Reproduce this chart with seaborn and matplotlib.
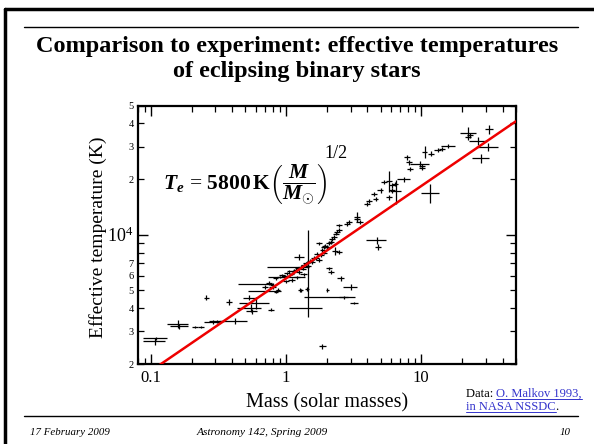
import numpy as np
import pandas as pd
import matplotlib
matplotlib.use('Agg')
import matplotlib.pyplot as plt
import matplotlib.ticker as mticker
from matplotlib.lines import Line2D
import seaborn as sns

# eclipsing binary components
mass = [0.110, 0.108, 0.160, 0.163, 0.212, 0.235, 0.258, 0.286, 0.31, 0.378,
        0.417, 0.62, 0.72, 0.547, 0.56, 0.537, 0.60, 0.776, 0.84, 0.87,
        0.80, 1.06, 1.10, 1.46, 1.46, 2.3, 2.68, 3.18, 3.0, 2.02,
        1.27, 1.30, 1.44, 1.86, 2.54,
        0.84, 0.90, 0.94, 0.98, 1.02, 1.06, 1.10, 1.14, 1.18, 1.22,
        1.25, 1.29, 1.33, 1.36, 1.40, 1.45, 1.50, 1.57, 1.62, 1.66,
        1.70, 1.75, 1.81, 1.86, 1.90, 1.95, 2.02, 2.08, 2.14, 2.20,
        2.26, 2.33, 2.40, 2.30, 2.47, 2.47, 1.25, 1.91, 2.47, 1.76,
        2.14, 2.08, 1.20, 1.35, 1.00, 1.10, 0.75, 0.80, 0.70,
        3.36, 2.84, 2.92, 3.36, 3.50, 4.72, 4.80, 4.10, 5.75, 5.28,
        5.00, 4.46, 4.60, 3.98, 5.75, 6.43, 6.08, 6.10, 6.50, 7.40,
        7.86, 8.08, 8.30, 9.83, 10.1, 10.1, 10.6, 11.8, 13.2, 14.2,
        15.8, 11.7, 22.3, 22.3, 23.0, 31.7, 26.5, 31.3, 27.9]
mass_err = [0.022, 0.020, 0.028, 0.025, 0.012, 0.012, 0.010, 0.040, 0.040, 0.020,
            0.100, 0.180, 0.200, 0.110, 0.050, 0.060, 0.150, 0.040, 0.030, 0.030,
            0.050, 0.330, 0.380, 0.060, 0.400, 0.950, 0.200, 0.200, 0.350, 0.050,
            0.040, 0.040, 0.050, 0.100, 0.150,
            0.04, 0.04, 0.05, 0.05, 0.05, 0.05, 0.05, 0.06, 0.06, 0.06,
            0.06, 0.06, 0.07, 0.07, 0.07, 0.07, 0.08, 0.08, 0.08, 0.08,
            0.09, 0.09, 0.09, 0.09, 0.10, 0.10, 0.10, 0.10, 0.11, 0.11,
            0.11, 0.12, 0.12, 0.12, 0.12, 0.12, 0.10, 0.10, 0.12, 0.09,
            0.11, 0.10, 0.06, 0.07, 0.05, 0.06, 0.04, 0.04, 0.04,
            0.17, 0.14, 0.15, 0.17, 0.18, 0.80, 0.25, 0.20, 0.30, 0.26,
            0.25, 0.22, 0.23, 0.20, 0.30, 0.32, 0.30, 0.30, 0.60, 0.80,
            0.40, 0.40, 0.40, 1.50, 0.50, 0.50, 0.50, 0.60, 0.70, 0.70,
            1.90, 1.80, 3.00, 1.20, 1.20, 2.00, 4.00, 6.00, 4.00]
temp = [2750, 2650, 3300, 3200, 3160, 3160, 4570, 3360, 3400, 4320,
        3430, 5420, 4950, 4010, 3850, 4560, 4280, 3930, 4930, 5050,
        5200, 5920, 6720, 7100, 4030, 4630, 4590, 4270, 5240, 5030,
        5030, 5000, 5090, 2500, 5810,
        5810, 5900, 6050, 5950, 6200, 6330, 6150, 6400, 6450, 6600,
        6300, 6700, 6550, 6900, 7000, 6800, 7200, 7140, 7500, 7440,
        7900, 7300, 7760, 8250, 8000, 8700, 8600, 9000, 9150, 9500,
        9730, 10150, 10400, 8150, 11250, 10570, 7600, 8600, 8080, 8970,
        6320, 6580, 5900, 6100, 5600, 5700, 5500, 5350, 5200,
        12470, 11480, 11720, 12220, 11720, 9340, 8600, 15300, 19600, 19230,
        17360, 16660, 15650, 14700, 15960, 18830, 18470, 17360, 17200, 19900,
        26200, 24600, 22700, 24120, 23600, 23000, 28100, 27500, 28800, 29000,
        30300, 16870, 35700, 33600, 34500, 37200, 32200, 29700, 26000]
temp_err = [60, 120, 150, 100, 40, 40, 150, 80, 70, 150,
            120, 0, 0, 200, 100, 150, 300, 80, 100, 100,
            100, 0, 0, 3500, 0, 0, 80, 50, 200, 120,
            100, 100, 120, 80, 200,
            100, 100, 110, 110, 120, 120, 120, 130, 130, 130,
            130, 140, 140, 140, 150, 150, 150, 160, 160, 160,
            170, 170, 170, 180, 180, 190, 190, 200, 200, 210,
            220, 230, 240, 400, 250, 250, 300, 200, 200, 200,
            150, 150, 120, 130, 120, 120, 120, 120, 120,
            800, 300, 300, 300, 300, 400, 300, 400, 2500, 500,
            500, 400, 400, 400, 500, 500, 500, 500, 2500, 600,
            700, 700, 600, 800, 600, 600, 2000, 700, 700, 700,
            800, 2000, 2500, 1000, 1000, 2000, 1500, 1500, 1500]

# T_e = 5800 K (M/Msun)^(1/2), drawn across the axis range
fit_mass = [0.08, 50.0]
fit_temp = [5800 * np.sqrt(m) for m in fit_mass]

y_minor_ticks = [2000, 3000, 4000, 5000, 6000, 7000, 8000, 9000, 20000, 30000, 40000, 50000]
y_minor_labels = ['2', '3', '4', '5', '6', '7', '', '', '2', '3', '4', '5']

df = pd.DataFrame({'mass': mass, 'temp': temp, 'mass_err': mass_err, 'temp_err': temp_err})
fit = pd.DataFrame({'mass': fit_mass, 'temp': fit_temp})

sns.set_theme(style='ticks')
plt.rcParams['font.family'] = ['Liberation Serif', 'DejaVu Serif']
plt.rcParams['mathtext.fontset'] = 'custom'
plt.rcParams['mathtext.rm'] = 'Liberation Serif'
plt.rcParams['mathtext.it'] = 'Liberation Serif:italic'
plt.rcParams['mathtext.bf'] = 'Liberation Serif:bold'
plt.rcParams['mathtext.bfit'] = 'Liberation Serif:bold:italic'

W, H = 594, 444
fig = plt.figure(figsize=(5.94, 4.44), dpi=100)
fig.patch.set_facecolor('white')
ax = fig.add_axes([137.7 / W, 1 - 364 / H, (515.7 - 137.7) / W, (364 - 105.5) / H])

ax.errorbar(df['mass'], df['temp'], xerr=df['mass_err'], yerr=df['temp_err'],
            fmt='none', ecolor='black', elinewidth=0.9, capsize=0, zorder=2)
sns.lineplot(data=fit, x='mass', y='temp', color='#ee0000', linewidth=1.8, ax=ax, zorder=3)

ax.set_xscale('log')
ax.set_yscale('log')
ax.set_xlim(0.08, 50)
ax.set_ylim(2000, 50000)
ax.set_xlabel('')
ax.set_ylabel('')

ax.xaxis.set_major_locator(mticker.FixedLocator([0.1, 1, 10]))
ax.xaxis.set_major_formatter(mticker.FixedFormatter(['0.1', '1', '10']))
ax.xaxis.set_minor_locator(mticker.LogLocator(base=10, subs=np.arange(2, 10)))
ax.xaxis.set_minor_formatter(mticker.NullFormatter())
ax.yaxis.set_major_locator(mticker.FixedLocator([10000]))
ax.yaxis.set_major_formatter(mticker.FixedFormatter([r'$10^4$']))
ax.yaxis.set_minor_locator(mticker.FixedLocator(y_minor_ticks))
ax.yaxis.set_minor_formatter(mticker.FixedFormatter(y_minor_labels))

ax.tick_params(which='both', direction='in', top=True, right=True, colors='black')
ax.tick_params(which='major', length=7, width=1.0, pad=4)
ax.tick_params(which='minor', length=4, width=0.9)
ax.tick_params(axis='x', which='major', labelsize=12)
ax.tick_params(axis='y', which='major', labelsize=13, pad=3)
ax.tick_params(axis='y', which='minor', labelsize=7.5, pad=3)
for s in ax.spines.values():
    s.set_linewidth(1.6)
    s.set_color('black')

fig.text(98 / W, 1 - 237 / H, 'Effective temperature (K)', rotation=90,
         ha='center', va='center', fontsize=14, color='black')
fig.text(327 / W, 1 - 403 / H, 'Mass (solar masses)', ha='center', va='center',
         fontsize=14.5, color='black')

# slide decoration
fig.text(297 / W, 1 - 46 / H, 'Comparison to experiment: effective temperatures',
         ha='center', va='center', fontsize=17.5, fontweight='bold', color='black')
fig.text(297 / W, 1 - 71 / H, 'of eclipsing binary stars',
         ha='center', va='center', fontsize=17.5, fontweight='bold', color='black')
fig.add_artist(Line2D([5 / W, 1], [1 - 9 / H, 1 - 9 / H], color='black', lw=2.5))
fig.add_artist(Line2D([5 / W, 5 / W], [0, 1 - 9 / H], color='black', lw=2.5))
fig.add_artist(Line2D([24 / W, 578 / W], [1 - 27 / H, 1 - 27 / H], color='black', lw=1.0))
fig.add_artist(Line2D([24 / W, 578 / W], [1 - 416 / H, 1 - 416 / H], color='black', lw=1.0))
fig.text(30 / W, 1 - 432 / H, '17 February 2009', ha='left', va='center',
         fontsize=7.8, style='italic', color='black')
fig.text(262 / W, 1 - 432 / H, 'Astronomy 142, Spring 2009', ha='center', va='center',
         fontsize=8.2, style='italic', color='black')
fig.text(571 / W, 1 - 432 / H, '10', ha='right', va='center',
         fontsize=7.8, style='italic', color='black')

fig.canvas.draw()
rend = fig.canvas.get_renderer()

# fitted relation, exponent set high against the bracket as on the slide
eq = fig.text(163 / W, 1 - 185 / H,
              r'$\boldsymbol{T}_{\boldsymbol{e}}\,=\,\mathbf{5800\,K}\left(\dfrac{\boldsymbol{M}}{\boldsymbol{M}_{\odot}}\right)$',
              ha='left', va='center', fontsize=15.5, color='black')
eq_box = eq.get_window_extent(rend)
fig.text((eq_box.x1 - 3) / W, 1 - 153 / H, '1/2', ha='left', va='center',
         fontsize=13, color='black')

# data credit with underlined links
link = '#3333cc'
t1 = fig.text(466 / W, 1 - 397 / H, 'Data: ', ha='left', va='baseline', fontsize=9, color='black')
x1 = t1.get_window_extent(rend).x1
t2 = fig.text(x1 / W, 1 - 397 / H, 'O. Malkov 1993,', ha='left', va='baseline', fontsize=9, color=link)
e2 = t2.get_window_extent(rend)
fig.add_artist(Line2D([e2.x0 / W, e2.x1 / W], [1 - 399 / H, 1 - 399 / H], color=link, lw=0.7))
t3 = fig.text(466 / W, 1 - 410 / H, 'in NASA NSSDC', ha='left', va='baseline', fontsize=9, color=link)
e3 = t3.get_window_extent(rend)
fig.add_artist(Line2D([e3.x0 / W, e3.x1 / W], [1 - 412 / H, 1 - 412 / H], color=link, lw=0.7))
fig.text(e3.x1 / W, 1 - 410 / H, '.', ha='left', va='baseline', fontsize=9, color='black')

fig.savefig('out.png', dpi=100, facecolor='white')
